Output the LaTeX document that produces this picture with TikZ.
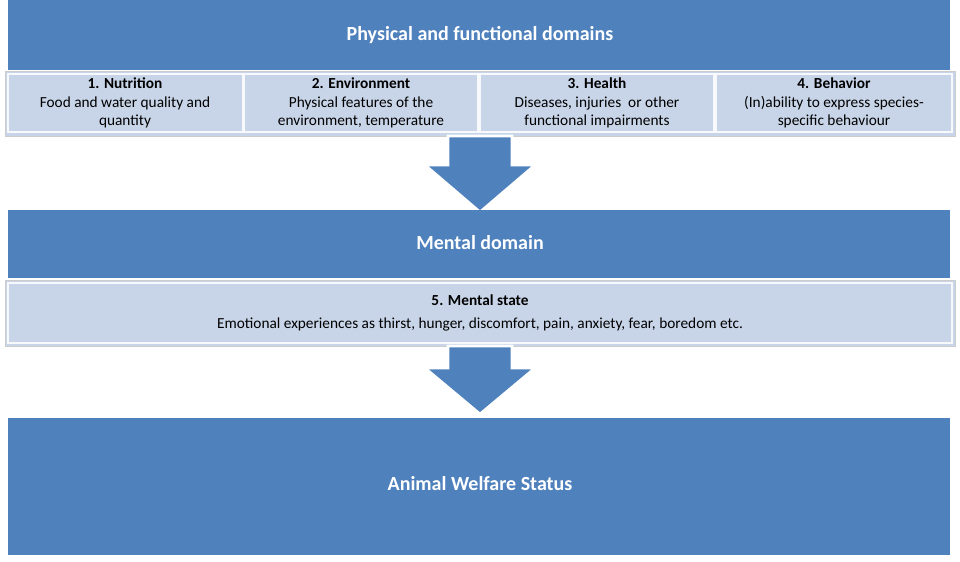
\documentclass[tikz,border=0pt]{standalone}
\usepackage{fontspec}
\setmainfont{Carlito}
\begin{document}
\begin{tikzpicture}[x=0.75pt,y=-0.75pt,
  bar/.style={fill=barblue,draw=none},
  panel/.style={fill=lightblue,draw=gray!40,line width=0.6pt},
  sub/.style={fill=lightblue,draw=white!85!lightblue,line width=0.8pt},
  arr/.style={fill=barblue,draw=white,line width=2pt,line join=miter},
  ttl/.style={text=white,font=\bfseries\fontsize{15}{18}\selectfont},
  txt/.style={align=center,font=\fontsize{11.5}{14}\selectfont,text=black}]
\definecolor{barblue}{HTML}{4F81BD}
\definecolor{lightblue}{HTML}{C8D5E8}
\useasboundingbox (0,0) rectangle (960,561);
% top bar
\fill[barblue] (8,0) rectangle (950,70);
\node[ttl] (t1) at (480,35) {Physical and functional domains};
% panel 1
\draw[panel] (5,71) rectangle (955,136);
\foreach \i/\a/\b in {0/8/243,1/244/478,2/480/714,3/716/952}{
  \draw[sub] (\a,74) rectangle (\b,132);}
\node[txt] (n1) at (125,103) {\textbf{1. Nutrition}\\Food and water quality and\\quantity};
\node[txt] (n2) at (361,103) {\textbf{2. Environment}\\Physical features of the\\environment, temperature};
\node[txt] (n3) at (597,103) {\textbf{3. Health}\\Diseases, injuries\ \ or other\\functional impairments};
\node[txt] (n4) at (834,103) {\textbf{4. Behavior}\\(In)ability to express species-\\specific behaviour};
% arrow 1
\draw[arr] (448,136) -- (512,136) -- (512,165) -- (535,165) -- (480,212) -- (425,165) -- (448,165) -- cycle;
% mental bar
\fill[barblue] (8,210) rectangle (950,278);
\node[ttl] (t2) at (480,243) {Mental domain};
\draw[panel] (5,280) rectangle (955,346);
\draw[sub] (8,283) rectangle (952,343);
\node[txt] (n5) at (480,313) {\textbf{5. Mental state}\\[3pt]Emotional experiences as thirst, hunger, discomfort, pain, anxiety, fear, boredom etc.};
% arrow 2
\draw[arr] (448,346) -- (512,346) -- (512,368) -- (535,368) -- (480,414) -- (425,368) -- (448,368) -- cycle;
% bottom bar
\fill[barblue] (8,418) rectangle (950,555);
\node[ttl] (t3) at (480,484) {Animal Welfare Status};
\end{tikzpicture}
\end{document}
